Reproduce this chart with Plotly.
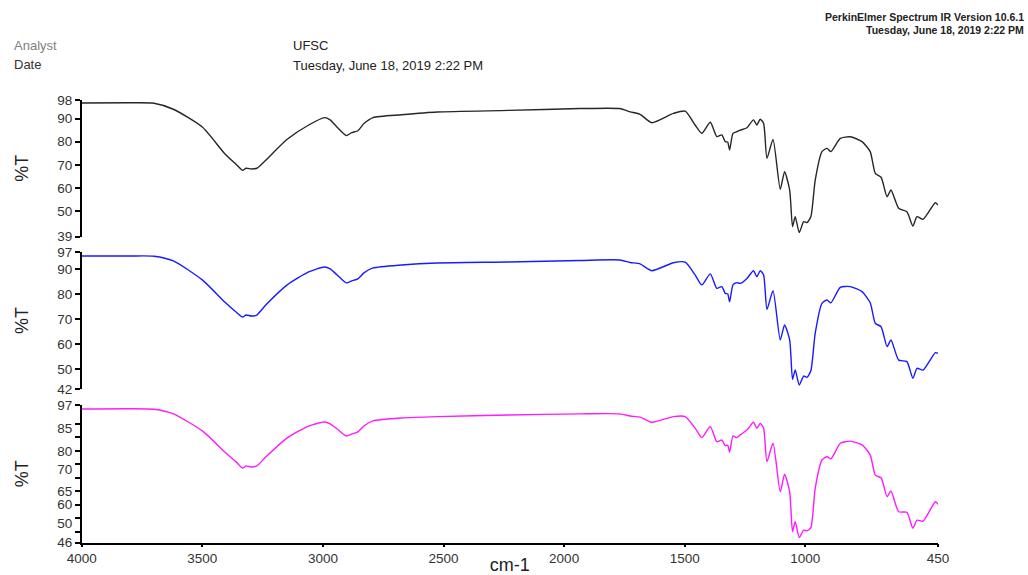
import plotly.graph_objects as go

W, H = 1028, 575

# wavenumbers (cm-1)
wn = [4000, 3800, 3700, 3620, 3500, 3407, 3360, 3333, 3319, 3296, 3274, 3237, 3148,
      3059, 2993, 2970, 2941, 2903, 2881, 2855, 2830, 2792, 2674, 2526, 2230, 1933,
      1770, 1726, 1685, 1637, 1547, 1498, 1457, 1429, 1394, 1367, 1346, 1332, 1322,
      1314, 1300, 1284, 1270, 1242, 1215, 1201, 1187, 1173, 1159, 1134, 1104, 1086,
      1065, 1053, 1042, 1025, 1007, 993, 977, 959, 931, 910, 894, 855, 814, 765,
      731, 710, 686, 661, 645, 613, 579, 554, 537, 512, 461, 450]

t_black = [96.7, 96.8, 96.6, 94.0, 86.3, 74.8, 70.2, 67.6, 68.5, 68.2, 68.5, 72.0, 81.0,
           87.2, 90.4, 89.4, 86.2, 82.6, 83.9, 84.7, 87.8, 90.4, 91.6, 92.8, 93.5, 94.3,
           94.3, 92.9, 91.8, 88.2, 92.2, 93.2, 87.2, 83.6, 88.4, 82.2, 82.9, 80.0, 79.8,
           76.4, 83.6, 84.3, 85.0, 86.0, 89.4, 87.2, 89.7, 87.9, 72.8, 81.0, 59.4, 67.0,
           59.1, 43.3, 47.6, 40.7, 45.4, 45.0, 47.6, 63.4, 75.7, 77.1, 75.7, 81.4, 82.1, 80.0,
           75.7, 66.3, 64.6, 56.2, 59.1, 51.2, 49.7, 43.5, 47.6, 46.4, 53.6, 52.6]

t_blue = [95.4, 95.4, 95.3, 93.4, 85.8, 76.9, 72.9, 70.9, 71.7, 71.3, 71.7, 75.7, 83.8,
          89.0, 91.0, 90.2, 87.8, 84.6, 85.4, 86.2, 88.6, 90.6, 91.8, 92.6, 93.0, 93.6,
          93.8, 92.8, 92.2, 89.5, 92.7, 92.9, 87.8, 83.8, 88.2, 82.4, 83.1, 80.4, 80.2,
          77.0, 83.8, 84.7, 84.4, 86.4, 89.5, 87.1, 89.5, 87.8, 74.0, 81.5, 61.7, 67.7,
          61.7, 45.9, 49.6, 43.6, 47.2, 46.7, 49.4, 64.4, 76.4, 77.7, 76.6, 82.8, 83.1, 81.1,
          76.6, 68.4, 67.0, 59.0, 61.7, 53.6, 53.0, 46.3, 50.3, 49.6, 56.6, 56.3]

t_magenta = [95.5, 95.6, 95.4, 93.7, 87.4, 79.6, 75.9, 73.6, 74.4, 74.0, 74.4, 77.7, 84.8,
             89.2, 90.7, 90.0, 88.1, 85.5, 86.2, 87.0, 89.2, 91.1, 92.2, 92.7, 93.3, 93.7,
             93.7, 92.9, 92.5, 90.6, 92.7, 92.7, 88.4, 84.9, 89.0, 83.4, 84.0, 81.9, 82.1,
             79.5, 85.5, 84.9, 85.9, 87.7, 90.6, 88.4, 90.2, 88.4, 76.0, 82.8, 64.8, 71.3,
             64.8, 50.0, 53.7, 47.8, 50.6, 50.3, 51.5, 66.1, 76.6, 77.8, 77.0, 82.8, 83.6, 82.2,
             78.5, 71.0, 70.0, 63.0, 65.1, 57.4, 57.2, 51.3, 54.3, 53.9, 61.1, 60.2]

x_ticks = [4000, 3500, 3000, 2500, 2000, 1500, 1000, 450]
y1_ticks = [39, 50, 60, 70, 80, 90, 98]
y2_ticks = [42, 50, 60, 70, 80, 90, 97]
y3_ticks = [46, 50, 55, 60, 65, 70, 75, 80, 85, 90, 97]
# some labels drawn slightly above their tick, as in the original print
y3_text = ["46", "50<br> ", "", "60", "65", "70<br> ", "", "80", "85<br> ", "", "97"]

font_family = "Liberation Sans, Arial, sans-serif"


def px_x(p):
    return p / W


def px_y(p):
    return 1 - p / H


x_dom = [px_x(81.7), px_x(938)]
dom1 = [px_y(236.5), px_y(100)]
dom2 = [px_y(389), px_y(252)]
dom3 = [px_y(542.5), px_y(405)]

fig = go.Figure()
fig.add_trace(go.Scatter(x=wn, y=t_black, mode="lines", line=dict(color="#262626", width=1.4, shape="spline", smoothing=0.6),
                         xaxis="x", yaxis="y", showlegend=False))
fig.add_trace(go.Scatter(x=wn, y=t_blue, mode="lines", line=dict(color="#1a1aff", width=1.4, shape="spline", smoothing=0.6),
                         xaxis="x2", yaxis="y2", showlegend=False))
fig.add_trace(go.Scatter(x=wn, y=t_magenta, mode="lines", line=dict(color="#ff1aff", width=1.4, shape="spline", smoothing=0.6),
                         xaxis="x3", yaxis="y3", showlegend=False))

tickfont = dict(family=font_family, size=13.5, color="#333333")
titlefont = dict(family=font_family, size=18, color="#222222")

yax_common = dict(showline=True, linecolor="black", linewidth=1.5, ticks="outside", ticklen=5,
                  tickwidth=1.5, tickcolor="black", showgrid=False, zeroline=False,
                  tickfont=tickfont, automargin=False, fixedrange=True)

hidden_x = dict(range=[4000, 450], domain=x_dom, visible=False, showgrid=False, zeroline=False)

fig.update_layout(
    width=W, height=H,
    margin=dict(l=0, r=0, t=0, b=0),
    paper_bgcolor="white", plot_bgcolor="white",
    xaxis=dict(**hidden_x, anchor="y"),
    xaxis2=dict(**hidden_x, anchor="y2"),
    xaxis3=dict(range=[4000, 450], domain=x_dom, anchor="y3", showline=True, linecolor="black",
                linewidth=1.5, ticks="outside", ticklen=3, tickwidth=1.5, tickcolor="black",
                tickvals=x_ticks, ticktext=[str(v) for v in x_ticks], tickfont=tickfont,
                showgrid=False, zeroline=False, automargin=False,
                title=dict(text="cm-1", font=titlefont, standoff=12)),
    yaxis=dict(**yax_common, domain=dom1, range=[39, 98], anchor="x",
               tickvals=y1_ticks, ticktext=[str(v) for v in y1_ticks],
               title=dict(text="%T", font=titlefont, standoff=24)),
    yaxis2=dict(**yax_common, domain=dom2, range=[42, 97], anchor="x2",
                tickvals=y2_ticks, ticktext=[str(v) for v in y2_ticks],
                title=dict(text="%T", font=titlefont, standoff=24)),
    yaxis3=dict(**yax_common, domain=dom3, range=[46, 97], anchor="x3",
                tickvals=y3_ticks, ticktext=y3_text,
                title=dict(text="%T", font=titlefont, standoff=24)),
)

annots = [
    dict(text="Analyst", x=px_x(12), y=px_y(46), xanchor="left", yanchor="middle",
         font=dict(family=font_family, size=13, color="#808080")),
    dict(text="Date", x=px_x(12), y=px_y(64), xanchor="left", yanchor="middle",
         font=dict(family=font_family, size=13, color="#333333")),
    dict(text="UFSC", x=px_x(291), y=px_y(46), xanchor="left", yanchor="middle",
         font=dict(family=font_family, size=13, color="#222222")),
    dict(text="Tuesday, June 18, 2019 2:22 PM", x=px_x(291), y=px_y(65), xanchor="left", yanchor="middle",
         font=dict(family=font_family, size=13, color="#222222")),
    dict(text="<b>PerkinElmer Spectrum IR Version 10.6.1</b>", x=px_x(1026), y=px_y(17), xanchor="right",
         yanchor="middle", font=dict(family=font_family, size=10.5, color="#222222")),
    dict(text="<b>Tuesday, June 18, 2019 2:22 PM</b>", x=px_x(1026), y=px_y(30), xanchor="right",
         yanchor="middle", font=dict(family=font_family, size=10.5, color="#222222")),
]
for a in annots:
    fig.add_annotation(xref="paper", yref="paper", showarrow=False, **a)

fig.write_html("out.html")
